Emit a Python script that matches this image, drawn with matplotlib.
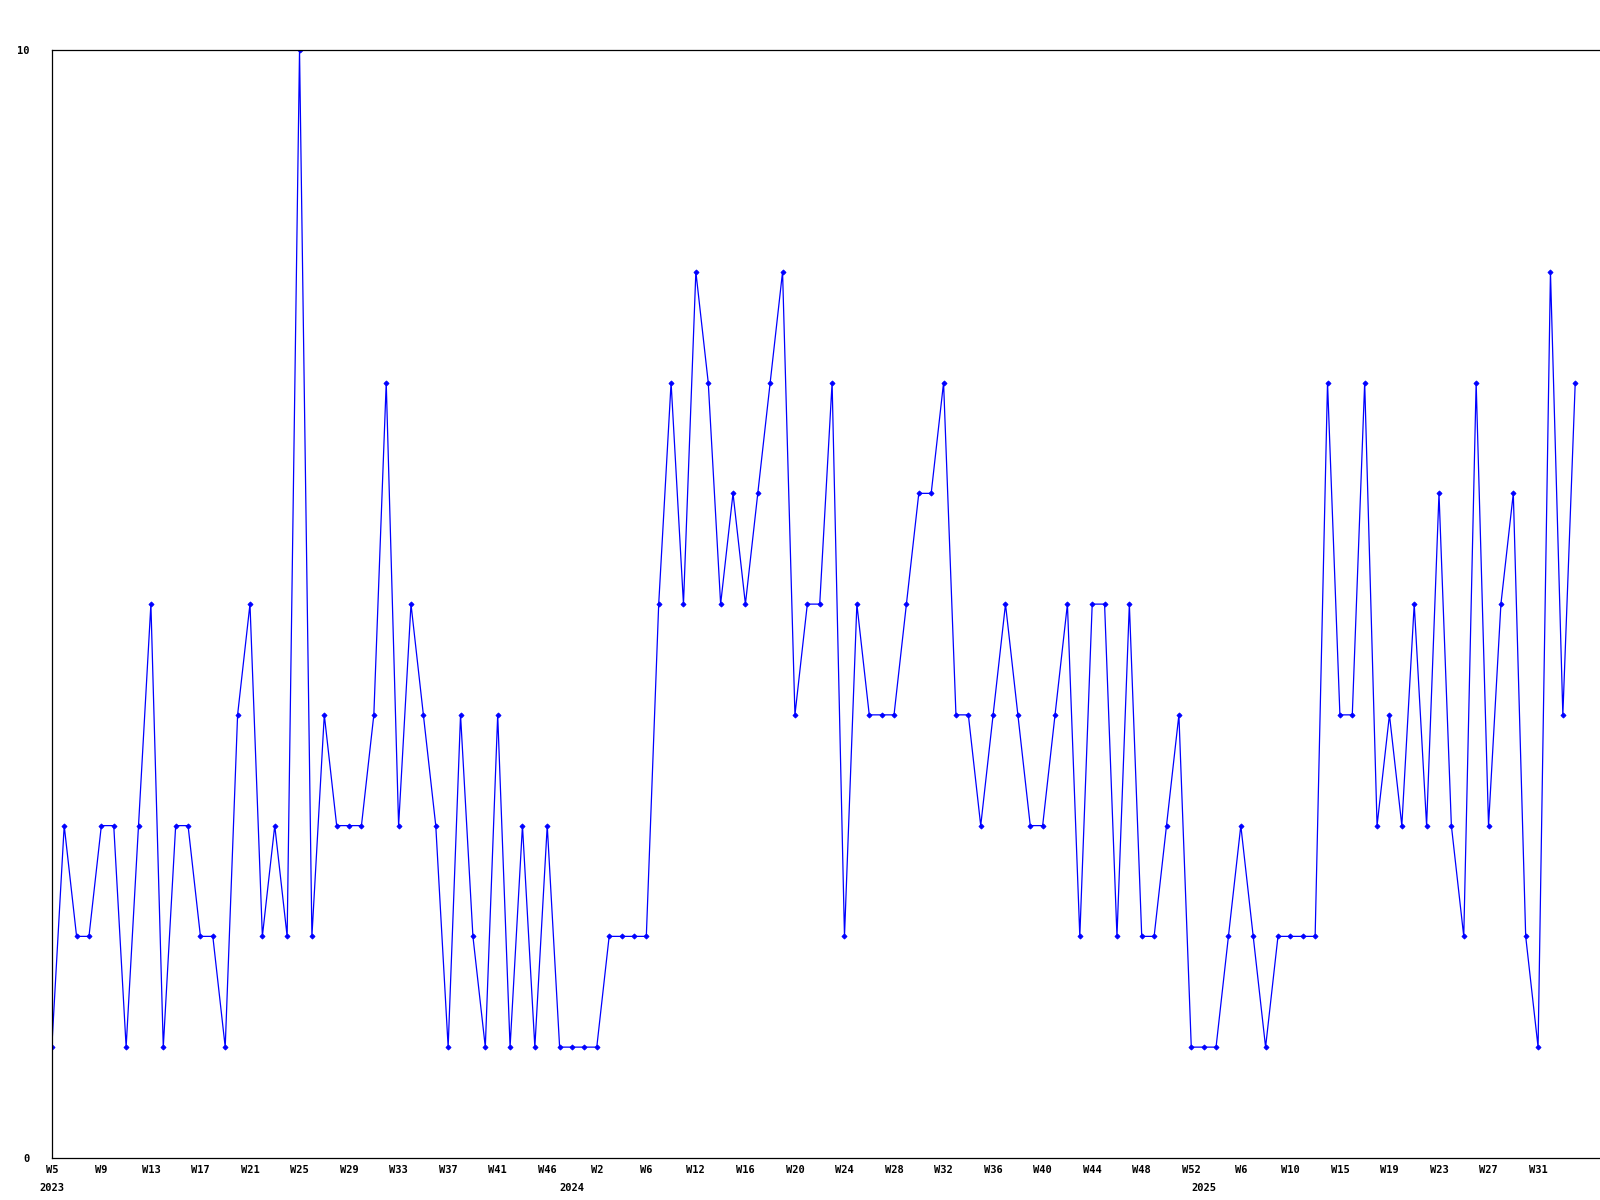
import matplotlib
matplotlib.use('Agg')
import matplotlib.pyplot as plt
import matplotlib.transforms as mtransforms
import numpy as np

# valores semanais (um ponto por semana)
values = [1, 3, 2, 2, 3, 3, 1, 3, 5, 1, 3, 3, 2, 2, 1, 4, 5, 2, 3, 2,
          10, 2, 4, 3, 3, 3, 4, 7, 3, 5, 4, 3, 1, 4, 2, 1, 4, 1, 3, 1,
          3, 1, 1, 1, 1, 2, 2, 2, 2, 5, 7, 5, 8, 7, 5, 6, 5, 6, 7, 8,
          4, 5, 5, 7, 2, 5, 4, 4, 4, 5, 6, 6, 7, 4, 4, 3, 4, 5, 4, 3,
          3, 4, 5, 2, 5, 5, 2, 5, 2, 2, 3, 4, 1, 1, 1, 2, 3, 2, 1, 2,
          2, 2, 2, 7, 4, 4, 7, 3, 4, 3, 5, 3, 6, 3, 2, 7, 3, 5, 6, 2,
          1, 8, 4, 7]

tick_labels = ['W5', 'W9', 'W13', 'W17', 'W21', 'W25', 'W29', 'W33', 'W37', 'W41',
               'W46', 'W2', 'W6', 'W12', 'W16', 'W20', 'W24', 'W28', 'W32', 'W36',
               'W40', 'W44', 'W48', 'W52', 'W6', 'W10', 'W15', 'W19', 'W23', 'W27', 'W31']
tick_step = 4

years = ['2023', '2024', '2025']
year_start = [0, 42, 93]

font = {'family': 'DejaVu Sans Mono', 'weight': 'bold', 'size': 7.5}

fig = plt.figure(figsize=(16, 12), dpi=100)
W, H = 1544, 1168
ax = fig.add_axes([50 / W, 1 - 1127 / H, 1 - 50 / W, (1127 - 49) / H])

x = np.arange(len(values))
ax.plot(x, values, color='#0000ff', linewidth=0.9, marker='D', markersize=2.6,
        markeredgewidth=0.6)

ax.set_xlim(0, len(values) - 1 + 2)
ax.set_ylim(0, 10)

ax.set_yticks([0, 10])
ax.set_yticklabels(['0', '10'], fontdict=font)
ax.set_xticks(x[::tick_step][:len(tick_labels)])
ax.set_xticklabels(tick_labels, fontdict=font)
ax.tick_params(length=0)
ax.tick_params(axis='y', pad=16)
ax.tick_params(axis='x', pad=5)

trans = mtransforms.blended_transform_factory(ax.transData, ax.transAxes)
for yr, pos in zip(years, year_start):
    ax.text(pos, -0.0225, yr, transform=trans, ha='center', va='top', **font)

ax.spines['right'].set_visible(False)
for s in ['left', 'top', 'bottom']:
    ax.spines[s].set_linewidth(0.9)

fig.savefig('out.png', dpi=100)
